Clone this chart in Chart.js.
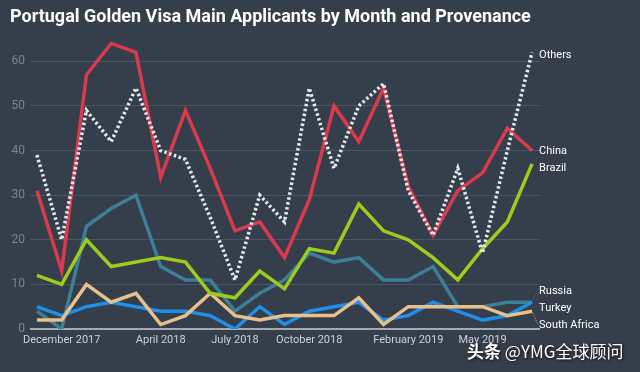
<!DOCTYPE html>
<html lang="en">
<head>
    <meta charset="UTF-8">
    <title>Portugal Golden Visa Main Applicants by Month and Provenance</title>
    <script src="https://cdn.jsdelivr.net/npm/chart.js"></script>
    <style>
        html, body {
            margin: 0;
            padding: 0;
            background: #353e4b;
        }
        #wrap {
            width: 640px;
            height: 372px;
        }
    </style>
</head>
<body>
    <div id="wrap"><canvas id="visaChart"></canvas></div>
    <script>
        // Months Nov 2017 .. Jul 2019
        const months = [
            'November 2017', 'December 2017', 'January 2018', 'February 2018', 'March 2018',
            'April 2018', 'May 2018', 'June 2018', 'July 2018', 'August 2018', 'September 2018',
            'October 2018', 'November 2018', 'December 2018', 'January 2019', 'February 2019',
            'March 2019', 'April 2019', 'May 2019', 'June 2019', 'July 2019'
        ];
        const xTickLabels = ['December 2017', 'April 2018', 'July 2018', 'October 2018', 'February 2019', 'May 2019'];
        const yTicks = [0, 10, 20, 30, 40, 50, 60];

        const others      = [39, 20, 49, 42, 54, 40, 38, 25, 11, 30, 24, 54, 36, 50, 55, 31, 21, 36, 17, 40, 62];
        const china       = [31, 13, 57, 64, 62, 34, 49, 36, 22, 24, 16, 29, 50, 42, 54, 32, 21, 31, 35, 45, 40];
        const brazil      = [12, 10, 20, 14, 15, 16, 15, 8, 7, 13, 9, 18, 17, 28, 22, 20, 16, 11, 18, 24, 37];
        const russia      = [4, 0, 23, 27, 30, 14, 11, 11, 4, 8, 11, 17, 15, 16, 11, 11, 14, 5, 5, 6, 6];
        const turkey      = [5, 3, 5, 6, 5, 4, 4, 3, 0, 5, 1, 4, 5, 6, 2, 3, 6, 4, 2, 3, 6];
        const southAfrica = [2, 2, 10, 6, 8, 1, 3, 8, 3, 2, 3, 3, 3, 7, 1, 5, 5, 5, 5, 3, 4];

        const toPoints = arr => arr.map((v, i) => ({ x: i, y: v }));

        // title + watermark drawn on the canvas
        const decorPlugin = {
            id: 'decor',
            afterDraw(chart) {
                const ctx = chart.ctx;
                ctx.save();
                ctx.fillStyle = '#ffffff';
                ctx.font = 'bold 18px Roboto';
                ctx.textBaseline = 'middle';
                ctx.textAlign = 'left';
                ctx.fillText('Portugal Golden Visa Main Applicants by Month and Provenance', 10, 17);

                ctx.shadowColor = 'rgba(0,0,0,0.8)';
                ctx.shadowBlur = 3;
                ctx.shadowOffsetX = 1;
                ctx.shadowOffsetY = 1;
                ctx.font = 'bold 17px "Noto Sans CJK SC"';
                ctx.fillText('头条', 467, 352);
                const w = ctx.measureText('头条 ').width;
                ctx.font = '17px "Noto Sans CJK SC"';
                ctx.fillText('@YMG全球顾问', 467 + w, 352);
                ctx.restore();
            }
        };

        // series names at the right end, pushed apart when they overlap
        const endLabelPlugin = {
            id: 'endLabels',
            afterDatasetsDraw(chart) {
                const ctx = chart.ctx;
                const gap = 17;
                let items = chart.data.datasets.map((ds, i) => {
                    const meta = chart.getDatasetMeta(i);
                    const pt = meta.data[meta.data.length - 1];
                    return { name: ds.label, color: ds.borderColor, px: pt.x, py: pt.y, target: pt.y + 2, idx: i };
                });
                items.sort((a, b) => a.target - b.target || a.idx - b.idx);

                let clusters = items.map(it => ({ items: [it], top: it.target }));
                let merged = true;
                while (merged) {
                    merged = false;
                    for (let i = 0; i < clusters.length - 1; i++) {
                        const a = clusters[i], b = clusters[i + 1];
                        const aBottom = a.top + (a.items.length - 1) * gap;
                        if (b.top - aBottom < gap) {
                            const all = a.items.concat(b.items);
                            const mean = all.reduce((s, it) => s + it.target, 0) / all.length;
                            clusters.splice(i, 2, { items: all, top: mean - (all.length - 1) * gap / 2 });
                            merged = true;
                            break;
                        }
                    }
                }

                ctx.save();
                ctx.font = '11px Roboto';
                ctx.textBaseline = 'middle';
                ctx.textAlign = 'left';
                clusters.forEach(c => {
                    c.items.forEach((it, k) => {
                        const ly = c.top + k * gap + 1;
                        const lx = it.px + 7;
                        if (Math.abs(ly - it.py) > 6) {
                            ctx.strokeStyle = it.color;
                            ctx.lineWidth = 1;
                            ctx.setLineDash([1, 1.5]);
                            ctx.beginPath();
                            ctx.moveTo(it.px + 1, it.py + (ly > it.py ? 2 : -2));
                            ctx.lineTo(lx - 1, ly);
                            ctx.stroke();
                            ctx.setLineDash([]);
                        }
                        ctx.fillStyle = '#ffffff';
                        ctx.fillText(it.name, lx, ly);
                    });
                });
                ctx.restore();
            }
        };

        const lineStyle = {
            borderWidth: 3.5,
            pointRadius: 0,
            tension: 0,
            fill: false
        };

        const ctx = document.getElementById('visaChart').getContext('2d');
        new Chart(ctx, {
            type: 'line',
            data: {
                datasets: [
                    Object.assign({ label: 'Others', data: toPoints(others), borderColor: '#e4eaf0',
                        borderDash: [2.5, 2.5], order: 0 }, lineStyle),
                    Object.assign({ label: 'China', data: toPoints(china), borderColor: '#da3a4e', order: 1 }, lineStyle),
                    Object.assign({ label: 'Brazil', data: toPoints(brazil), borderColor: '#9dcc1e', order: 2 }, lineStyle),
                    Object.assign({ label: 'Russia', data: toPoints(russia), borderColor: '#3d7f97', order: 5 }, lineStyle),
                    Object.assign({ label: 'Turkey', data: toPoints(turkey), borderColor: '#1f8fe8', order: 4 }, lineStyle),
                    Object.assign({ label: 'South Africa', data: toPoints(southAfrica), borderColor: '#e8c08b', order: 3 }, lineStyle)
                ]
            },
            options: {
                responsive: true,
                maintainAspectRatio: false,
                animation: false,
                layout: {
                    padding: { top: 39, right: 100, left: 0, bottom: 0 }
                },
                plugins: {
                    legend: { display: false },
                    title: { display: false },
                    tooltip: { enabled: false }
                },
                scales: {
                    x: {
                        type: 'linear',
                        min: -0.28,
                        max: 20.32,
                        afterBuildTicks: axis => {
                            axis.ticks = xTickLabels.map(l => ({ value: months.indexOf(l) }));
                        },
                        afterFit: axis => { axis.height = 43; },
                        grid: { display: false, drawTicks: false },
                        border: { display: false },
                        ticks: {
                            autoSkip: false,
                            maxRotation: 0,
                            padding: 5,
                            color: '#cdd2d9',
                            font: { family: 'Roboto', size: 11 },
                            callback: value => months[value]
                        }
                    },
                    y: {
                        min: 0,
                        max: 65,
                        afterBuildTicks: axis => {
                            axis.ticks = yTicks.map(v => ({ value: v }));
                        },
                        afterFit: axis => { axis.width = 30; },
                        border: { display: false },
                        grid: {
                            drawTicks: false,
                            color: c => c.tick && c.tick.value === 0 ? '#a2abb5' : '#4c5563',
                            lineWidth: c => c.tick && c.tick.value === 0 ? 2 : 1
                        },
                        ticks: {
                            padding: 5,
                            color: '#7b8592',
                            font: { family: 'Roboto', size: 12 }
                        }
                    }
                }
            },
            plugins: [endLabelPlugin, decorPlugin]
        });
    </script>
</body>
</html>
